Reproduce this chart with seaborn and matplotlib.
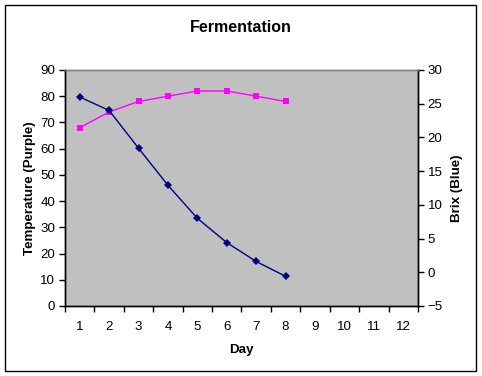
import pandas as pd
import matplotlib.pyplot as plt
import matplotlib.patches as patches
import seaborn as sns
from matplotlib.ticker import FixedLocator, NullFormatter

plt.rcParams['font.family'] = ['Liberation Sans', 'DejaVu Sans']

# Data
days = [1, 2, 3, 4, 5, 6, 7, 8]
temperature = [68, 74, 78, 80, 82, 82, 80, 78]
brix = [26, 24, 18.4, 12.9, 8, 4.4, 1.6, -0.6]
day_labels = [str(d) for d in range(1, 13)]

df = pd.DataFrame({'Day': days, 'Temperature': temperature, 'Brix': brix})

fig = plt.figure(figsize=(4.82, 3.76), dpi=100)
ax = fig.add_axes([65 / 482, 1 - 306 / 376, (418 - 65) / 482, (306 - 70) / 376])
ax.set_facecolor('#C0C0C0')
ax2 = ax.twinx()

sns.lineplot(data=df, x='Day', y='Temperature', ax=ax, color='#FF00FF',
             marker='s', markersize=5, markeredgewidth=0, linewidth=1)
sns.lineplot(data=df, x='Day', y='Brix', ax=ax2, color='#000080',
             marker='D', markersize=4.5, markeredgewidth=0, linewidth=1)

# Category axis: labels centred in slots, ticks on boundaries
ax.set_xlim(0.5, 12.5)
ax.set_xticks(range(1, 13))
ax.set_xticklabels(day_labels)
ax.xaxis.set_minor_locator(FixedLocator([i + 0.5 for i in range(0, 13)]))
ax.xaxis.set_minor_formatter(NullFormatter())
ax.tick_params(axis='x', which='major', length=0, pad=11, labelsize=9.6)
ax.tick_params(axis='x', which='minor', length=4, width=1, direction='out', color='black')

ax.set_ylim(0, 90)
ax.set_yticks(range(0, 91, 10))
ax.tick_params(axis='y', length=4, width=1, direction='out', pad=3, labelsize=9.6)
ax2.set_ylim(-5, 30)
ax2.set_yticks(range(-5, 31, 5))
ax2.tick_params(axis='y', length=4, width=1, direction='out', pad=3, labelsize=9.6)

for a in (ax, ax2):
    for side in ('left', 'right', 'bottom'):
        a.spines[side].set_color('black')
        a.spines[side].set_linewidth(1)
    a.spines['top'].set_color('#808080')
    a.spines['top'].set_linewidth(1)
    a.grid(False)

ax.set_xlabel('Day', fontsize=9.6, fontweight='bold', labelpad=8)
ax.set_ylabel('Temperature (Purple)', fontsize=9.6, fontweight='bold', labelpad=3)
ax2.set_ylabel('Brix (Blue)', fontsize=9.6, fontweight='bold', labelpad=6)

fig.text(0.5, 1 - 27 / 376, 'Fermentation', ha='center', va='center',
         fontsize=11.5, fontweight='bold')

# Chart border
fig.patches.append(patches.Rectangle((5 / 482, 5 / 376), 471 / 482, 366 / 376,
                                     transform=fig.transFigure, fill=False,
                                     edgecolor='black', linewidth=1))

fig.savefig('out.png', dpi=100)
